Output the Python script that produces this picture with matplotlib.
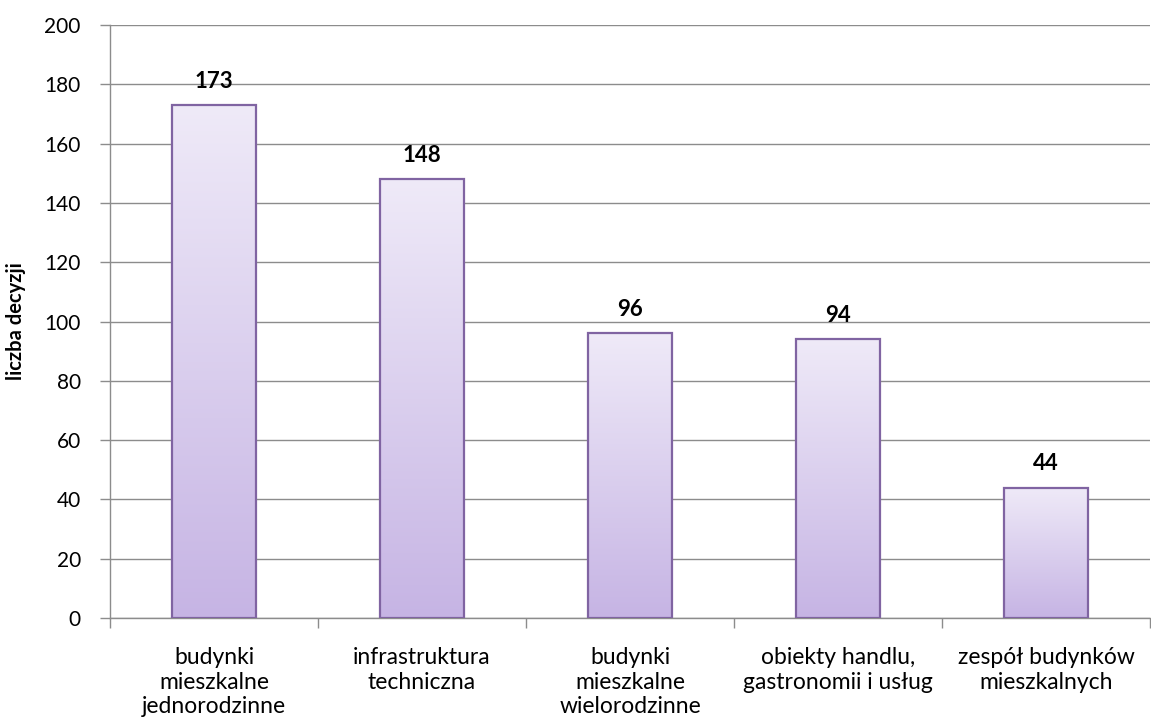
import numpy as np
import matplotlib
matplotlib.use("Agg")
import matplotlib.pyplot as plt
from matplotlib.colors import LinearSegmentedColormap

# dane
kategorie = ["budynki\nmieszkalne\njednorodzinne", "infrastruktura\ntechniczna",
             "budynki\nmieszkalne\nwielorodzinne", "obiekty handlu,\ngastronomii i usług",
             "zespół budynków\nmieszkalnych"]
wartosci = [173, 148, 96, 94, 44]

plt.rcParams['font.family'] = ['Lato', 'DejaVu Sans']

fig = plt.figure(figsize=(11.51, 7.27), dpi=100)
ax = fig.add_axes([110/1151, 1-618/727, 1040/1151, 593/727])

x = np.arange(len(wartosci))
szer = 0.40
grad = LinearSegmentedColormap.from_list("g", ["#c6b4e4", "#efeaf8"])
bary = ax.bar(x, wartosci, width=szer, color="none", edgecolor="#8064a2", linewidth=1.6, zorder=3)
for b in bary:
    x0 = b.get_x()
    h = b.get_height()
    im = ax.imshow(np.linspace(0, 1, 256).reshape(-1, 1), cmap=grad, origin="lower",
                   extent=[x0, x0 + b.get_width(), 0, h], aspect="auto", zorder=2)
    im.set_clip_path(b)
    ax.text(b.get_x() + b.get_width()/2, h + 4.5, str(int(h)), ha="center", va="bottom",
            fontsize=16, fontweight="bold", color="black")

ax.set_xlim(-0.5, len(wartosci) - 0.5)
ax.set_ylim(0, 200)
ax.set_yticks(range(0, 201, 20))
ax.yaxis.grid(True, color="#8c8c8c", linewidth=1.0, zorder=0)
ax.set_axisbelow(True)
ax.set_ylabel("liczba decyzji", fontsize=14.5, fontweight="bold", labelpad=13)

ax.set_xticks(np.arange(-0.5, len(wartosci)), minor=False)
ax.set_xticklabels([])
ax.set_xticks(x, minor=True)
ax.set_xticklabels(kategorie, minor=True, fontsize=16.5, linespacing=1.2)
ax.tick_params(axis="x", which="minor", length=0, pad=21)
ax.tick_params(axis="x", which="major", length=7, color="#8c8c8c", width=1)
ax.tick_params(axis="y", length=7, color="#8c8c8c", width=1, labelsize=15, pad=14)

for s in ["top", "right"]:
    ax.spines[s].set_visible(False)
for s in ["left", "bottom"]:
    ax.spines[s].set_color("#8c8c8c")
    ax.spines[s].set_linewidth(1.0)

fig.savefig("out.png", dpi=100)
